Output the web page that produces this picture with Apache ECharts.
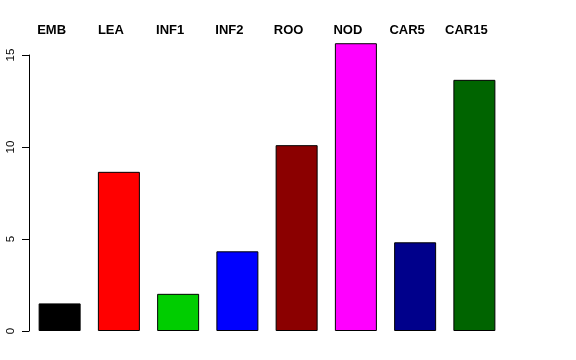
<!DOCTYPE html>
<html>
<head>
<meta charset="utf-8">
<script src="https://cdn.jsdelivr.net/npm/echarts@6/dist/echarts.min.js"></script>
<style>html,body{margin:0;padding:0;background:#fff;}#c{width:576px;height:360px;}</style>
</head>
<body>
<div id="c"></div>
<script>
var categories = ["EMB", "LEA", "INF1", "INF2", "ROO", "NOD", "CAR5", "CAR15"];
var values = [1.5, 8.65, 2.02, 4.33, 10.1, 15.64, 4.82, 13.65];
var colors = ["#000000", "#FF0000", "#00CD00", "#0000FF", "#8B0000", "#FF00FF", "#00008B", "#006400"];
var yTicks = [0, 5, 10, 15];

var chart = echarts.init(document.getElementById('c'), null, {renderer: 'canvas'});
chart.setOption({
  animation: false,
  backgroundColor: '#ffffff',
  grid: {left: 30, right: 72, top: 55, bottom: 29},
  xAxis: {
    type: 'category',
    position: 'top',
    data: categories,
    axisLine: {show: false},
    axisTick: {show: false},
    axisLabel: {
      interval: 0,
      margin: 18,
      fontFamily: 'Liberation Sans',
      fontWeight: 'bold',
      fontSize: 13,
      color: '#000',
      padding: [0, 16, 0, 0]
    }
  },
  yAxis: {
    type: 'value',
    min: yTicks[0],
    max: yTicks[yTicks.length - 1],
    interval: 5,
    offset: 1,
    splitLine: {show: false},
    axisLine: {show: true, lineStyle: {color: '#000', width: 1}},
    axisTick: {show: true, length: 7, lineStyle: {color: '#000'}},
    axisLabel: {
      rotate: 90,
      margin: 12,
      fontFamily: 'Liberation Sans',
      fontSize: 11.5,
      color: '#000'
    }
  },
  series: [{
    type: 'bar',
    clip: false,
    barWidth: 42,
    data: values.map(function (v, i) {
      return {value: v, itemStyle: {color: colors[i]}};
    }),
    itemStyle: {borderColor: '#000', borderWidth: 1}
  }]
});
</script>
</body>
</html>
